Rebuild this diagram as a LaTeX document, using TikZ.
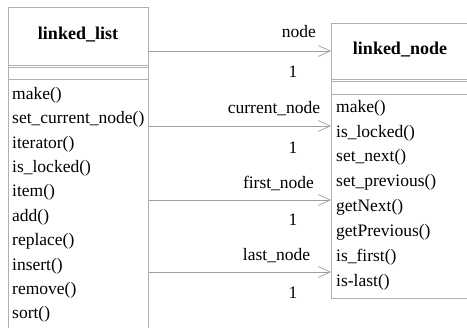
\documentclass[tikz,border=0pt]{standalone}
\usepackage{fontspec}
\setmainfont{Liberation Serif}
\usetikzlibrary{arrows.meta}
\definecolor{boxline}{HTML}{B0B0B0}
\definecolor{arrline}{HTML}{A0A0A0}
\begin{document}
\begin{tikzpicture}[x=1pt,y=-1pt,
  font=\fontsize{17.5}{21}\selectfont,
  classbox/.style={draw=boxline, line width=0.8pt, fill=white, inner sep=0pt, anchor=north west},
  titletext/.style={font=\fontsize{18}{21}\bfseries, inner sep=0pt},
  meth/.style={anchor=west, inner sep=0pt},
  lbl/.style={inner sep=0pt},
  sepline/.style={draw=boxline, line width=0.7pt},
  arr/.style={draw=arrline, line width=0.7pt, -{Straight Barb[length=12pt,width=11pt,line width=0.7pt]}}]
\useasboundingbox (0,0) rectangle (467,328);
\clip (0,0) rectangle (467,328);
% class boxes
\node[classbox, minimum width=140pt, minimum height=340pt] (list) at (8,7) {};
\node[classbox, minimum width=140pt, minimum height=275pt] (nodebox) at (331,23) {};
% titles
\node[titletext] (listtitle) at (78,35) {linked\_list};
\node[titletext] (nodetitle) at (400,50) {linked\_node};
% compartment separators
\draw[sepline] (8,65.2) -- (148,65.2);
\draw[sepline] (8,66.9) -- (148,66.9);
\draw[sepline] (8,79) -- (148,79);
\draw[sepline] (331,79.3) -- (471,79.3);
\draw[sepline] (331,81) -- (471,81);
\draw[sepline] (331,94.3) -- (471,94.3);
% methods of linked_list
\foreach \t [count=\i] in {make(), set\_current\_node(), iterator(), is\_locked(), item(), add(), replace(), insert(), remove(), sort()}
  \node[meth] (lm\i) at (12,{95+24.4*(\i-1)}) {\t};
% methods of linked_node
\foreach \t [count=\i] in {make(), is\_locked(), set\_next(), set\_previous(), getNext(), getPrevious(), is\_first(), is-last()}
  \node[meth] (nm\i) at (336,{108+24.85*(\i-1)}) {\t};
% arrow levels
\coordinate (y1) at (0,51);
\coordinate (y2) at (0,126);
\coordinate (y3) at (0,200);
\coordinate (y4) at (0,272);
\draw[arr] (list.east |- y1) -- (nodebox.west |- y1);
\draw[arr] (list.east |- y2) -- (nodebox.west |- y2);
\draw[arr] (list.east |- y3) -- (nodebox.west |- y3);
\draw[arr] (list.east |- y4) -- (nodebox.west |- y4);
% role names and multiplicities
\node[lbl] (r1) at (299,32) {node};
\node[lbl] (r2) at (274,109) {current\_node};
\node[lbl] (r3) at (278.5,183) {first\_node};
\node[lbl] (r4) at (276.5,256) {last\_node};
\node[lbl] (k1) at (293,72) {1};
\node[lbl] (k2) at (293,148) {1};
\node[lbl] (k3) at (293,220) {1};
\node[lbl] (k4) at (293,293) {1};
\end{tikzpicture}
\end{document}
